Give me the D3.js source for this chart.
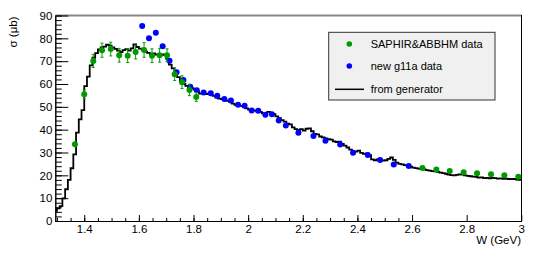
<!DOCTYPE html>
<html><head><meta charset="utf-8">
<script src="https://cdn.jsdelivr.net/npm/d3@7"></script>
<style>body{margin:0;background:#fff}svg{display:block}text{font-family:"Liberation Sans",Arial,Helvetica,sans-serif}</style>
</head><body><svg id="c" width="540" height="256"></svg>
<script>
// ---- data ----
const histStart = 1.29, histWidth = 0.01;
const histValues = [4.5,5.5,6.5,9.9,13.9,18.0,23.1,29.2,38.7,44.5,
 48.6,59.1,63.2,68.2,71.5,73.5,75.2,76.0,76.4,77.2,
 76.8,76.0,75.4,74.6,74.0,74.8,75.3,74.6,75.6,77.3,
 76.2,75.5,75.0,74.2,73.6,73.0,73.4,72.9,73.2,72.8,
 73.0,71.0,68.5,66.8,65.0,63.0,61.2,60.0,59.2,58.4,
 58.2,57.6,56.6,55.8,55.9,55.6,55.8,55.3,54.8,54.0,
 53.6,53.4,53.0,52.6,52.2,51.4,50.9,50.8,50.4,49.9,
 49.3,48.8,48.6,48.3,48.0,47.8,47.2,47.0,47.8,47.3,
 46.8,45.8,45.0,44.2,43.5,42.6,42.3,41.0,40.2,39.8,
 40.2,39.6,40.4,40.6,39.3,38.2,37.9,37.0,36.6,36.2,
 35.8,35.6,34.9,34.6,34.8,33.8,33.0,32.2,31.3,30.6,
 30.4,30.8,29.8,29.4,29.6,28.8,27.0,26.6,27.0,26.8,
 26.5,26.6,27.2,27.8,26.8,25.6,25.0,24.8,24.5,24.1,
 23.8,23.4,23.2,22.9,22.7,22.6,22.3,22.1,21.8,21.7,
 21.5,21.2,21.0,20.7,20.3,20.1,20.0,20.2,20.4,20.3,
 20.0,19.8,19.6,19.4,19.3,19.0,19.1,18.8,18.9,18.7,
 18.9,18.8,18.6,18.7,18.5,18.6,18.4,18.3,18.4,18.1,18.0];

const greenW   = [1.366,1.400,1.433,1.465,1.497,1.528,1.559,1.588,1.619,1.648,1.676,1.703,1.731,1.758,1.785,1.810,
                  2.638,2.689,2.738,2.789,2.838,2.889,2.938,2.989];
const greenVal = [33.6,55.5,70.1,74.8,75.3,72.6,72.4,74.0,74.9,72.4,72.6,72.6,64.3,60.8,57.4,54.3,
                  23.2,22.6,21.9,21.3,20.9,20.5,20.0,19.4];
const greenErr = [1.0,2.0,2.9,3.1,3.0,3.0,3.0,3.0,3.2,3.0,3.0,2.8,2.8,2.8,2.5,2.0,
                  0.3,0.3,0.3,0.3,0.3,0.3,0.3,0.3];

const blueW   = [1.612,1.637,1.662,1.687,1.712,1.738,1.763,1.788,1.812,1.837,1.863,1.887,1.913,1.937,1.963,1.987,
                 2.013,2.037,2.063,2.087,2.112,2.138,2.184,2.239,2.283,2.337,2.384,2.438,2.483,2.533,2.588];
const blueVal = [85.4,80.0,82.5,76.5,70.2,65.1,61.8,58.8,57.3,56.3,56.0,54.9,53.4,52.8,50.9,50.5,
                 48.4,48.3,46.5,46.8,44.0,41.8,38.7,37.2,35.2,33.5,29.9,28.9,26.7,24.7,24.1];

const xTicksMajor = [1.4,1.6,1.8,2.0,2.2,2.4,2.6,2.8,3.0];
const xTickLabels = ["1.4","1.6","1.8","2","2.2","2.4","2.6","2.8","3"];
const yTicksMajor = [0,10,20,30,40,50,60,70,80,90];
const legendLabels = ["SAPHIR&ABBHM data","new g11a data","from generator"];

// ---- drawing ----
const svg = d3.select("#c");
const GREEN = "#009a00", BLUE = "#0000ff";
const x = d3.scaleLinear().domain([1.294, 3.0]).range([55.3, 521.3]);
const y = d3.scaleLinear().domain([0, 90]).range([221, 15.5]);

svg.append("defs").append("clipPath").attr("id","clip").append("rect")
  .attr("x",55.3).attr("y",10).attr("width",466).attr("height",211);

// frame top/right
svg.append("line").attr("x1",55.3).attr("x2",521.8).attr("y1",15.5).attr("y2",15.5).attr("stroke","#888").attr("stroke-width",2);
svg.append("line").attr("x1",521.5).attr("x2",521.5).attr("y1",15).attr("y2",221).attr("stroke","#000").attr("stroke-width",1);

// axes
const xMinor = d3.range(26).map(i => 1.3 + 0.05*i).filter(v => v <= 3.0001);
const gxm = svg.append("g").attr("transform","translate(0,221)")
  .call(d3.axisBottom(x).tickValues(xMinor).tickSizeInner(-3).tickSizeOuter(0).tickFormat(""));
const gx = svg.append("g").attr("transform","translate(0,221)")
  .call(d3.axisBottom(x).tickValues(xTicksMajor).tickSizeInner(-6).tickSizeOuter(0).tickPadding(4)
    .tickFormat((d,i) => xTickLabels[i]));
const yMinor = d3.range(46).map(i => 2*i);
const gym = svg.append("g").attr("transform","translate(55.3,0)")
  .call(d3.axisLeft(y).tickValues(yMinor).tickSizeInner(-6.5).tickSizeOuter(0).tickFormat(""));
const gy = svg.append("g").attr("transform","translate(55.3,0)")
  .call(d3.axisLeft(y).tickValues(yTicksMajor).tickSizeInner(-13).tickSizeOuter(0).tickPadding(3));
[gx,gy,gxm,gym].forEach(g => {
  g.selectAll("text").attr("font-size","11.5px").attr("fill","#000").style("font-family","Liberation Sans, Arial, sans-serif");
  g.selectAll("line").attr("stroke","#000");
  g.select(".domain").attr("stroke","#000");
});

// axis titles
svg.append("text").attr("x",521).attr("y",244).attr("text-anchor","end").attr("font-size","11.5px").text("W (GeV)");
svg.append("text").attr("transform","translate(16.5,16.5) rotate(-90)").attr("text-anchor","end").attr("font-size","11.5px").text("σ (μb)");

// histogram
const histPts = histValues.map((v,i) => [histStart + histWidth*i, v]);
histPts.push([histStart + histWidth*histValues.length, histValues[histValues.length-1]]);
svg.append("path").attr("clip-path","url(#clip)")
  .attr("d", d3.line().x(d => x(d[0])).y(d => y(d[1])).curve(d3.curveStepAfter)(histPts))
  .attr("fill","none").attr("stroke","#000").attr("stroke-width",1.8);

// blue points
svg.append("g").selectAll("circle").data(blueW).join("circle")
  .attr("cx", d => x(d)).attr("cy", (d,i) => y(blueVal[i])).attr("r",3).attr("fill",BLUE);

// green error bars + points
const ge = svg.append("g").attr("stroke",GREEN).attr("stroke-width",1);
greenW.forEach((w,i) => {
  const cx = x(w), y0 = y(greenVal[i]-greenErr[i]), y1 = y(greenVal[i]+greenErr[i]);
  ge.append("line").attr("x1",cx).attr("x2",cx).attr("y1",y0).attr("y2",y1);
  if (greenErr[i] > 1) {
    ge.append("line").attr("x1",cx-1.5).attr("x2",cx+1.5).attr("y1",y0).attr("y2",y0);
    ge.append("line").attr("x1",cx-1.5).attr("x2",cx+1.5).attr("y1",y1).attr("y2",y1);
  }
});
svg.append("g").selectAll("circle").data(greenW).join("circle")
  .attr("cx", d => x(d)).attr("cy", (d,i) => y(greenVal[i])).attr("r",3).attr("fill",GREEN);

// legend
const lg = svg.append("g");
lg.append("rect").attr("x",328.7).attr("y",32.3).attr("width",166.3).attr("height",67.7)
  .attr("fill","#f0f0f0").attr("stroke","#333").attr("stroke-width",1);
const rowsY = [44,66,89.3];
lg.append("circle").attr("cx",349.3).attr("cy",rowsY[0]).attr("r",2.8).attr("fill",GREEN);
lg.append("circle").attr("cx",349.3).attr("cy",rowsY[1]).attr("r",2.8).attr("fill",BLUE);
lg.append("line").attr("x1",335).attr("x2",364).attr("y1",rowsY[2]).attr("y2",rowsY[2]).attr("stroke","#000").attr("stroke-width",1.5);
legendLabels.forEach((t,i) => lg.append("text").attr("x",370.7).attr("y",rowsY[i]+4).attr("font-size","11px").attr("fill","#000").text(t));
</script></body></html>
